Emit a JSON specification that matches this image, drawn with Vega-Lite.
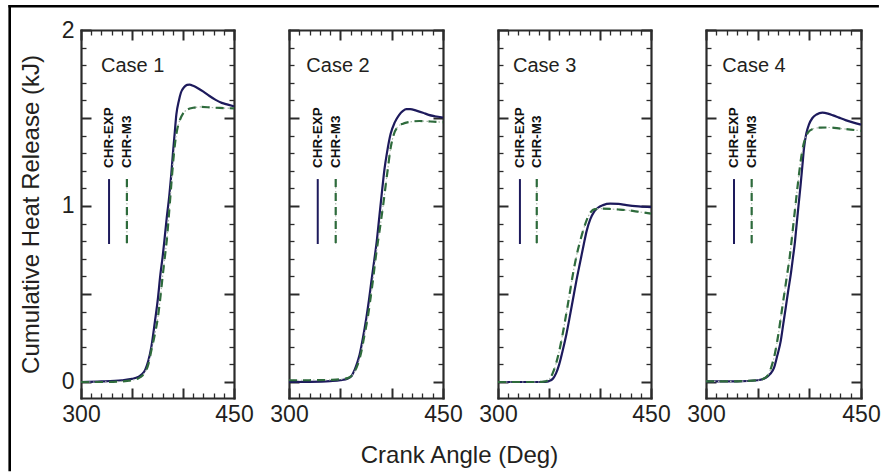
{
  "$schema": "https://vega.github.io/schema/vega-lite/v6.json",
  "padding": {"left": 7, "top": 4, "right": 0, "bottom": 0},
  "background": "white",
  "bounds": "flush",
  "spacing": 55,
  "datasets": {
    "chr": [
      {"case": 1, "series": "CHR-EXP", "angle": 300, "q": 0},
      {"case": 1, "series": "CHR-EXP", "angle": 320, "q": 0.003},
      {"case": 1, "series": "CHR-EXP", "angle": 340, "q": 0.01},
      {"case": 1, "series": "CHR-EXP", "angle": 350, "q": 0.018},
      {"case": 1, "series": "CHR-EXP", "angle": 356, "q": 0.028},
      {"case": 1, "series": "CHR-EXP", "angle": 360, "q": 0.045},
      {"case": 1, "series": "CHR-EXP", "angle": 363, "q": 0.07},
      {"case": 1, "series": "CHR-EXP", "angle": 366, "q": 0.12},
      {"case": 1, "series": "CHR-EXP", "angle": 369, "q": 0.2},
      {"case": 1, "series": "CHR-EXP", "angle": 372.5, "q": 0.345},
      {"case": 1, "series": "CHR-EXP", "angle": 375.5, "q": 0.48},
      {"case": 1, "series": "CHR-EXP", "angle": 377.8, "q": 0.61},
      {"case": 1, "series": "CHR-EXP", "angle": 380, "q": 0.71},
      {"case": 1, "series": "CHR-EXP", "angle": 381.7, "q": 0.8},
      {"case": 1, "series": "CHR-EXP", "angle": 384, "q": 0.93},
      {"case": 1, "series": "CHR-EXP", "angle": 386.6, "q": 1.06},
      {"case": 1, "series": "CHR-EXP", "angle": 388.5, "q": 1.18},
      {"case": 1, "series": "CHR-EXP", "angle": 390, "q": 1.29},
      {"case": 1, "series": "CHR-EXP", "angle": 391.8, "q": 1.41},
      {"case": 1, "series": "CHR-EXP", "angle": 393.5, "q": 1.52},
      {"case": 1, "series": "CHR-EXP", "angle": 396, "q": 1.6},
      {"case": 1, "series": "CHR-EXP", "angle": 398, "q": 1.645},
      {"case": 1, "series": "CHR-EXP", "angle": 401, "q": 1.675},
      {"case": 1, "series": "CHR-EXP", "angle": 404, "q": 1.688},
      {"case": 1, "series": "CHR-EXP", "angle": 406.5, "q": 1.69},
      {"case": 1, "series": "CHR-EXP", "angle": 410, "q": 1.683},
      {"case": 1, "series": "CHR-EXP", "angle": 415, "q": 1.668},
      {"case": 1, "series": "CHR-EXP", "angle": 420, "q": 1.65},
      {"case": 1, "series": "CHR-EXP", "angle": 426, "q": 1.625},
      {"case": 1, "series": "CHR-EXP", "angle": 432, "q": 1.603},
      {"case": 1, "series": "CHR-EXP", "angle": 438, "q": 1.586},
      {"case": 1, "series": "CHR-EXP", "angle": 444, "q": 1.576},
      {"case": 1, "series": "CHR-EXP", "angle": 450, "q": 1.566},
      {"case": 1, "series": "CHR-M3", "angle": 300, "q": 0},
      {"case": 1, "series": "CHR-M3", "angle": 320, "q": 0},
      {"case": 1, "series": "CHR-M3", "angle": 340, "q": 0.003},
      {"case": 1, "series": "CHR-M3", "angle": 350, "q": 0.01},
      {"case": 1, "series": "CHR-M3", "angle": 356, "q": 0.02},
      {"case": 1, "series": "CHR-M3", "angle": 360, "q": 0.035},
      {"case": 1, "series": "CHR-M3", "angle": 362, "q": 0.05},
      {"case": 1, "series": "CHR-M3", "angle": 366, "q": 0.1},
      {"case": 1, "series": "CHR-M3", "angle": 369, "q": 0.18},
      {"case": 1, "series": "CHR-M3", "angle": 372, "q": 0.26},
      {"case": 1, "series": "CHR-M3", "angle": 375.2, "q": 0.36},
      {"case": 1, "series": "CHR-M3", "angle": 378, "q": 0.49},
      {"case": 1, "series": "CHR-M3", "angle": 380.2, "q": 0.61},
      {"case": 1, "series": "CHR-M3", "angle": 382.2, "q": 0.71},
      {"case": 1, "series": "CHR-M3", "angle": 384, "q": 0.8},
      {"case": 1, "series": "CHR-M3", "angle": 386.6, "q": 0.98},
      {"case": 1, "series": "CHR-M3", "angle": 388.5, "q": 1.12},
      {"case": 1, "series": "CHR-M3", "angle": 390.5, "q": 1.26},
      {"case": 1, "series": "CHR-M3", "angle": 392.5, "q": 1.37},
      {"case": 1, "series": "CHR-M3", "angle": 394.5, "q": 1.44},
      {"case": 1, "series": "CHR-M3", "angle": 397, "q": 1.49},
      {"case": 1, "series": "CHR-M3", "angle": 400, "q": 1.525},
      {"case": 1, "series": "CHR-M3", "angle": 404, "q": 1.547},
      {"case": 1, "series": "CHR-M3", "angle": 410, "q": 1.558},
      {"case": 1, "series": "CHR-M3", "angle": 418, "q": 1.563},
      {"case": 1, "series": "CHR-M3", "angle": 427, "q": 1.56},
      {"case": 1, "series": "CHR-M3", "angle": 436, "q": 1.557},
      {"case": 1, "series": "CHR-M3", "angle": 450, "q": 1.555},
      {"case": 2, "series": "CHR-EXP", "angle": 300, "q": 0},
      {"case": 2, "series": "CHR-EXP", "angle": 320, "q": 0.001},
      {"case": 2, "series": "CHR-EXP", "angle": 340, "q": 0.005},
      {"case": 2, "series": "CHR-EXP", "angle": 350, "q": 0.01},
      {"case": 2, "series": "CHR-EXP", "angle": 357.5, "q": 0.02},
      {"case": 2, "series": "CHR-EXP", "angle": 361, "q": 0.035},
      {"case": 2, "series": "CHR-EXP", "angle": 364, "q": 0.07},
      {"case": 2, "series": "CHR-EXP", "angle": 366.5, "q": 0.11},
      {"case": 2, "series": "CHR-EXP", "angle": 368.8, "q": 0.156},
      {"case": 2, "series": "CHR-EXP", "angle": 372, "q": 0.25},
      {"case": 2, "series": "CHR-EXP", "angle": 375.3, "q": 0.363},
      {"case": 2, "series": "CHR-EXP", "angle": 378, "q": 0.47},
      {"case": 2, "series": "CHR-EXP", "angle": 380.2, "q": 0.57},
      {"case": 2, "series": "CHR-EXP", "angle": 383, "q": 0.69},
      {"case": 2, "series": "CHR-EXP", "angle": 385.5, "q": 0.8},
      {"case": 2, "series": "CHR-EXP", "angle": 388, "q": 0.94},
      {"case": 2, "series": "CHR-EXP", "angle": 390.9, "q": 1.1},
      {"case": 2, "series": "CHR-EXP", "angle": 393, "q": 1.21},
      {"case": 2, "series": "CHR-EXP", "angle": 395.5, "q": 1.305},
      {"case": 2, "series": "CHR-EXP", "angle": 399, "q": 1.41},
      {"case": 2, "series": "CHR-EXP", "angle": 403, "q": 1.475},
      {"case": 2, "series": "CHR-EXP", "angle": 407, "q": 1.515},
      {"case": 2, "series": "CHR-EXP", "angle": 411, "q": 1.54},
      {"case": 2, "series": "CHR-EXP", "angle": 414.3, "q": 1.55},
      {"case": 2, "series": "CHR-EXP", "angle": 418, "q": 1.55},
      {"case": 2, "series": "CHR-EXP", "angle": 424, "q": 1.542},
      {"case": 2, "series": "CHR-EXP", "angle": 430.5, "q": 1.53},
      {"case": 2, "series": "CHR-EXP", "angle": 436, "q": 1.518},
      {"case": 2, "series": "CHR-EXP", "angle": 442, "q": 1.51},
      {"case": 2, "series": "CHR-EXP", "angle": 450, "q": 1.503},
      {"case": 2, "series": "CHR-M3", "angle": 300, "q": 0.01},
      {"case": 2, "series": "CHR-M3", "angle": 320, "q": 0.01},
      {"case": 2, "series": "CHR-M3", "angle": 340, "q": 0.012},
      {"case": 2, "series": "CHR-M3", "angle": 350, "q": 0.015},
      {"case": 2, "series": "CHR-M3", "angle": 357, "q": 0.022},
      {"case": 2, "series": "CHR-M3", "angle": 361, "q": 0.035},
      {"case": 2, "series": "CHR-M3", "angle": 364, "q": 0.06},
      {"case": 2, "series": "CHR-M3", "angle": 367, "q": 0.1},
      {"case": 2, "series": "CHR-M3", "angle": 370, "q": 0.16},
      {"case": 2, "series": "CHR-M3", "angle": 373.3, "q": 0.26},
      {"case": 2, "series": "CHR-M3", "angle": 376.8, "q": 0.37},
      {"case": 2, "series": "CHR-M3", "angle": 379.5, "q": 0.48},
      {"case": 2, "series": "CHR-M3", "angle": 381.8, "q": 0.58},
      {"case": 2, "series": "CHR-M3", "angle": 384.5, "q": 0.71},
      {"case": 2, "series": "CHR-M3", "angle": 386.7, "q": 0.8},
      {"case": 2, "series": "CHR-M3", "angle": 389.2, "q": 0.9},
      {"case": 2, "series": "CHR-M3", "angle": 391.6, "q": 1.0},
      {"case": 2, "series": "CHR-M3", "angle": 394, "q": 1.11},
      {"case": 2, "series": "CHR-M3", "angle": 396.4, "q": 1.218},
      {"case": 2, "series": "CHR-M3", "angle": 399, "q": 1.33},
      {"case": 2, "series": "CHR-M3", "angle": 402, "q": 1.405},
      {"case": 2, "series": "CHR-M3", "angle": 406, "q": 1.45},
      {"case": 2, "series": "CHR-M3", "angle": 411, "q": 1.468},
      {"case": 2, "series": "CHR-M3", "angle": 418, "q": 1.478},
      {"case": 2, "series": "CHR-M3", "angle": 427, "q": 1.483},
      {"case": 2, "series": "CHR-M3", "angle": 438, "q": 1.48},
      {"case": 2, "series": "CHR-M3", "angle": 450, "q": 1.476},
      {"case": 3, "series": "CHR-EXP", "angle": 300, "q": 0},
      {"case": 3, "series": "CHR-EXP", "angle": 320, "q": 0},
      {"case": 3, "series": "CHR-EXP", "angle": 340, "q": 0},
      {"case": 3, "series": "CHR-EXP", "angle": 346, "q": 0.001},
      {"case": 3, "series": "CHR-EXP", "angle": 350, "q": 0.005},
      {"case": 3, "series": "CHR-EXP", "angle": 354, "q": 0.02},
      {"case": 3, "series": "CHR-EXP", "angle": 357, "q": 0.05},
      {"case": 3, "series": "CHR-EXP", "angle": 360, "q": 0.1},
      {"case": 3, "series": "CHR-EXP", "angle": 363.5, "q": 0.18},
      {"case": 3, "series": "CHR-EXP", "angle": 367, "q": 0.27},
      {"case": 3, "series": "CHR-EXP", "angle": 370, "q": 0.36},
      {"case": 3, "series": "CHR-EXP", "angle": 373.5, "q": 0.47},
      {"case": 3, "series": "CHR-EXP", "angle": 377, "q": 0.58},
      {"case": 3, "series": "CHR-EXP", "angle": 380.5, "q": 0.68},
      {"case": 3, "series": "CHR-EXP", "angle": 384, "q": 0.78},
      {"case": 3, "series": "CHR-EXP", "angle": 387, "q": 0.86},
      {"case": 3, "series": "CHR-EXP", "angle": 390.5, "q": 0.925},
      {"case": 3, "series": "CHR-EXP", "angle": 394, "q": 0.965},
      {"case": 3, "series": "CHR-EXP", "angle": 398, "q": 0.99},
      {"case": 3, "series": "CHR-EXP", "angle": 403, "q": 1.005},
      {"case": 3, "series": "CHR-EXP", "angle": 410, "q": 1.013},
      {"case": 3, "series": "CHR-EXP", "angle": 418, "q": 1.012},
      {"case": 3, "series": "CHR-EXP", "angle": 426, "q": 1.005},
      {"case": 3, "series": "CHR-EXP", "angle": 438, "q": 0.998},
      {"case": 3, "series": "CHR-EXP", "angle": 450, "q": 0.994},
      {"case": 3, "series": "CHR-M3", "angle": 300, "q": 0},
      {"case": 3, "series": "CHR-M3", "angle": 320, "q": 0},
      {"case": 3, "series": "CHR-M3", "angle": 340, "q": 0},
      {"case": 3, "series": "CHR-M3", "angle": 345, "q": 0.002},
      {"case": 3, "series": "CHR-M3", "angle": 349, "q": 0.01},
      {"case": 3, "series": "CHR-M3", "angle": 352, "q": 0.03},
      {"case": 3, "series": "CHR-M3", "angle": 355, "q": 0.07},
      {"case": 3, "series": "CHR-M3", "angle": 359, "q": 0.15},
      {"case": 3, "series": "CHR-M3", "angle": 363, "q": 0.26},
      {"case": 3, "series": "CHR-M3", "angle": 367, "q": 0.39},
      {"case": 3, "series": "CHR-M3", "angle": 370.5, "q": 0.51},
      {"case": 3, "series": "CHR-M3", "angle": 374, "q": 0.63},
      {"case": 3, "series": "CHR-M3", "angle": 377.5, "q": 0.73},
      {"case": 3, "series": "CHR-M3", "angle": 381, "q": 0.81},
      {"case": 3, "series": "CHR-M3", "angle": 384.5, "q": 0.88},
      {"case": 3, "series": "CHR-M3", "angle": 388, "q": 0.935},
      {"case": 3, "series": "CHR-M3", "angle": 391, "q": 0.966},
      {"case": 3, "series": "CHR-M3", "angle": 395, "q": 0.982},
      {"case": 3, "series": "CHR-M3", "angle": 400, "q": 0.985},
      {"case": 3, "series": "CHR-M3", "angle": 410, "q": 0.983},
      {"case": 3, "series": "CHR-M3", "angle": 418, "q": 0.98},
      {"case": 3, "series": "CHR-M3", "angle": 426.5, "q": 0.976},
      {"case": 3, "series": "CHR-M3", "angle": 438, "q": 0.967},
      {"case": 3, "series": "CHR-M3", "angle": 450, "q": 0.957},
      {"case": 4, "series": "CHR-EXP", "angle": 300, "q": 0.003},
      {"case": 4, "series": "CHR-EXP", "angle": 330, "q": 0.004},
      {"case": 4, "series": "CHR-EXP", "angle": 350, "q": 0.01},
      {"case": 4, "series": "CHR-EXP", "angle": 357.8, "q": 0.024},
      {"case": 4, "series": "CHR-EXP", "angle": 362, "q": 0.045},
      {"case": 4, "series": "CHR-EXP", "angle": 365.8, "q": 0.08},
      {"case": 4, "series": "CHR-EXP", "angle": 369, "q": 0.15},
      {"case": 4, "series": "CHR-EXP", "angle": 372.3, "q": 0.232},
      {"case": 4, "series": "CHR-EXP", "angle": 374.8, "q": 0.33},
      {"case": 4, "series": "CHR-EXP", "angle": 377.1, "q": 0.42},
      {"case": 4, "series": "CHR-EXP", "angle": 379.6, "q": 0.52},
      {"case": 4, "series": "CHR-EXP", "angle": 382, "q": 0.61},
      {"case": 4, "series": "CHR-EXP", "angle": 384, "q": 0.7},
      {"case": 4, "series": "CHR-EXP", "angle": 386.1, "q": 0.797},
      {"case": 4, "series": "CHR-EXP", "angle": 387.4, "q": 0.877},
      {"case": 4, "series": "CHR-EXP", "angle": 389.5, "q": 1.0},
      {"case": 4, "series": "CHR-EXP", "angle": 391.6, "q": 1.123},
      {"case": 4, "series": "CHR-EXP", "angle": 393.3, "q": 1.23},
      {"case": 4, "series": "CHR-EXP", "angle": 394.9, "q": 1.331},
      {"case": 4, "series": "CHR-EXP", "angle": 397, "q": 1.41},
      {"case": 4, "series": "CHR-EXP", "angle": 399.7, "q": 1.464},
      {"case": 4, "series": "CHR-EXP", "angle": 403, "q": 1.5},
      {"case": 4, "series": "CHR-EXP", "angle": 407, "q": 1.52},
      {"case": 4, "series": "CHR-EXP", "angle": 412.6, "q": 1.53},
      {"case": 4, "series": "CHR-EXP", "angle": 418, "q": 1.525},
      {"case": 4, "series": "CHR-EXP", "angle": 423, "q": 1.515},
      {"case": 4, "series": "CHR-EXP", "angle": 428.7, "q": 1.502},
      {"case": 4, "series": "CHR-EXP", "angle": 435, "q": 1.488},
      {"case": 4, "series": "CHR-EXP", "angle": 442, "q": 1.475},
      {"case": 4, "series": "CHR-EXP", "angle": 450, "q": 1.462},
      {"case": 4, "series": "CHR-M3", "angle": 300, "q": 0.003},
      {"case": 4, "series": "CHR-M3", "angle": 330, "q": 0.004},
      {"case": 4, "series": "CHR-M3", "angle": 350, "q": 0.01},
      {"case": 4, "series": "CHR-M3", "angle": 356, "q": 0.02},
      {"case": 4, "series": "CHR-M3", "angle": 360, "q": 0.04},
      {"case": 4, "series": "CHR-M3", "angle": 363.5, "q": 0.09},
      {"case": 4, "series": "CHR-M3", "angle": 367, "q": 0.17},
      {"case": 4, "series": "CHR-M3", "angle": 370, "q": 0.27},
      {"case": 4, "series": "CHR-M3", "angle": 373, "q": 0.39},
      {"case": 4, "series": "CHR-M3", "angle": 376, "q": 0.51},
      {"case": 4, "series": "CHR-M3", "angle": 378.5, "q": 0.61},
      {"case": 4, "series": "CHR-M3", "angle": 381, "q": 0.71},
      {"case": 4, "series": "CHR-M3", "angle": 384.2, "q": 0.877},
      {"case": 4, "series": "CHR-M3", "angle": 386.5, "q": 1.0},
      {"case": 4, "series": "CHR-M3", "angle": 389, "q": 1.13},
      {"case": 4, "series": "CHR-M3", "angle": 391.5, "q": 1.25},
      {"case": 4, "series": "CHR-M3", "angle": 394, "q": 1.34},
      {"case": 4, "series": "CHR-M3", "angle": 396.5, "q": 1.39},
      {"case": 4, "series": "CHR-M3", "angle": 399, "q": 1.42},
      {"case": 4, "series": "CHR-M3", "angle": 403, "q": 1.437},
      {"case": 4, "series": "CHR-M3", "angle": 410, "q": 1.445},
      {"case": 4, "series": "CHR-M3", "angle": 419, "q": 1.446},
      {"case": 4, "series": "CHR-M3", "angle": 430, "q": 1.44},
      {"case": 4, "series": "CHR-M3", "angle": 440, "q": 1.434},
      {"case": 4, "series": "CHR-M3", "angle": 450, "q": 1.427}
    ]
  },
  "hconcat": [
    {
      "width": 153, "height": 368,
      "resolve": {"axis": {"x": "independent", "y": "independent"}},
      "layer": [
        {"data": {"name": "chr"}, "transform": [{"filter": "datum.case === 1 && datum.series === 'CHR-EXP'"}],
         "mark": {"type": "line", "color": "#1d1a5c", "strokeWidth": 2.2, "interpolate": "monotone"},
         "encoding": {
           "x": {"field": "angle", "type": "quantitative", "scale": {"domain": [300, 450], "nice": false, "zero": false},
                 "axis": {"orient": "bottom", "values": [300,310,320,330,340,350,360,370,380,390,400,410,420,430,440,450],
                          "tickSize": {"condition": {"test": "datum.value % 50 === 0", "value": -10}, "value": -5},
                          "tickWidth": {"condition": {"test": "datum.value % 50 === 0", "value": 2}, "value": 1.3},
                          "labelExpr": "datum.value === 300 || datum.value === 450 ? format(datum.value, 'd') : ''",
                          "labelPadding": 15, "title": null}},
           "y": {"field": "q", "type": "quantitative", "scale": {"domain": [-0.091, 2], "nice": false, "zero": false},
                 "axis": {"orient": "left", "values": [0,0.1,0.2,0.3,0.4,0.5,0.6,0.7,0.8,0.9,1,1.1,1.2,1.3,1.4,1.5,1.6,1.7,1.8,1.9,2],
                          "tickSize": {"condition": {"test": "abs(datum.value * 2 - round(datum.value * 2)) < 0.01", "value": -10}, "value": -5},
                          "tickWidth": {"condition": {"test": "abs(datum.value * 2 - round(datum.value * 2)) < 0.01", "value": 2}, "value": 1.3},
                          "labelExpr": "datum.value === 0 || datum.value === 1 || datum.value === 2 ? format(datum.value, 'd') : ''",
                          "labelPadding": 17,
                          "title": "Cumulative Heat Release (kJ)", "titleX": -43, "titleY": 184, "titleAngle": 270,
                          "titleBaseline": "alphabetic", "titleAlign": "center"}}
         }},
        {"data": {"name": "chr"}, "transform": [{"filter": "datum.case === 1 && datum.series === 'CHR-M3'"}],
         "mark": {"type": "line", "color": "#a9b8a9", "strokeWidth": 1.2, "strokeDash": [1.5, 2.5], "interpolate": "monotone"},
         "encoding": {
           "x": {"field": "angle", "type": "quantitative", "scale": {"domain": [300, 450], "nice": false, "zero": false},
                 "axis": {"orient": "top", "values": [300,310,320,330,340,350,360,370,380,390,400,410,420,430,440,450],
                          "tickSize": {"condition": {"test": "datum.value % 50 === 0", "value": -10}, "value": -5},
                          "tickWidth": {"condition": {"test": "datum.value % 50 === 0", "value": 2}, "value": 1.3},
                          "labels": false, "title": null}},
           "y": {"field": "q", "type": "quantitative", "scale": {"domain": [-0.091, 2], "nice": false, "zero": false},
                 "axis": {"orient": "right", "values": [0,0.1,0.2,0.3,0.4,0.5,0.6,0.7,0.8,0.9,1,1.1,1.2,1.3,1.4,1.5,1.6,1.7,1.8,1.9,2],
                          "tickSize": {"condition": {"test": "abs(datum.value * 2 - round(datum.value * 2)) < 0.01", "value": -10}, "value": -5},
                          "tickWidth": {"condition": {"test": "abs(datum.value * 2 - round(datum.value * 2)) < 0.01", "value": 2}, "value": 1.3},
                          "labels": false, "title": null}}
         }},
        {"data": {"name": "chr"}, "transform": [{"filter": "datum.case === 1 && datum.series === 'CHR-M3'"}],
         "mark": {"type": "line", "color": "#2e6b3c", "strokeWidth": 2.2, "strokeDash": [8, 6], "interpolate": "monotone"},
         "encoding": {
           "x": {"field": "angle", "type": "quantitative", "scale": {"domain": [300, 450], "nice": false, "zero": false}, "axis": null},
           "y": {"field": "q", "type": "quantitative", "scale": {"domain": [-0.091, 2], "nice": false, "zero": false}, "axis": null}
         }},
        {"data": {"values": [{}]}, "mark": {"type": "rule", "color": "#1d1a5c", "strokeWidth": 2},
         "encoding": {"x": {"datum": 327.5, "type": "quantitative", "scale": {"domain": [300, 450], "nice": false, "zero": false}, "axis": null},
                      "y": {"datum": 1.153, "type": "quantitative", "scale": {"domain": [-0.091, 2], "nice": false, "zero": false}, "axis": null},
                      "y2": {"datum": 0.784}}},
        {"data": {"values": [{}]}, "mark": {"type": "rule", "color": "#a9b8a9", "strokeWidth": 1.2, "strokeDash": [1.5, 2.5]},
         "encoding": {"x": {"datum": 345, "type": "quantitative", "scale": {"domain": [300, 450], "nice": false, "zero": false}, "axis": null},
                      "y": {"datum": 1.153, "type": "quantitative", "scale": {"domain": [-0.091, 2], "nice": false, "zero": false}, "axis": null},
                      "y2": {"datum": 0.784}}},
        {"data": {"values": [{}]}, "mark": {"type": "rule", "color": "#2e6b3c", "strokeWidth": 2.2, "strokeDash": [8, 6]},
         "encoding": {"x": {"datum": 345, "type": "quantitative", "scale": {"domain": [300, 450], "nice": false, "zero": false}, "axis": null},
                      "y": {"datum": 1.153, "type": "quantitative", "scale": {"domain": [-0.091, 2], "nice": false, "zero": false}, "axis": null},
                      "y2": {"datum": 0.784}}},
        {"data": {"values": [{}]}, "mark": {"type": "text", "text": "CHR-EXP", "angle": 270, "align": "left", "baseline": "middle", "fontSize": 13.5, "fontWeight": "bold", "color": "#111111"},
         "encoding": {"x": {"datum": 327.5, "type": "quantitative", "scale": {"domain": [300, 450], "nice": false, "zero": false}, "axis": null},
                      "y": {"datum": 1.216, "type": "quantitative", "scale": {"domain": [-0.091, 2], "nice": false, "zero": false}, "axis": null}}},
        {"data": {"values": [{}]}, "mark": {"type": "text", "text": "CHR-M3", "angle": 270, "align": "left", "baseline": "middle", "fontSize": 13.5, "fontWeight": "bold", "color": "#111111"},
         "encoding": {"x": {"datum": 345, "type": "quantitative", "scale": {"domain": [300, 450], "nice": false, "zero": false}, "axis": null},
                      "y": {"datum": 1.216, "type": "quantitative", "scale": {"domain": [-0.091, 2], "nice": false, "zero": false}, "axis": null}}},
        {"data": {"values": [{}]}, "mark": {"type": "text", "text": "Case 1", "align": "left", "baseline": "alphabetic", "fontSize": 20, "color": "#231f20"},
         "encoding": {"x": {"datum": 319.6, "type": "quantitative", "scale": {"domain": [300, 450], "nice": false, "zero": false}, "axis": null},
                      "y": {"datum": 1.763, "type": "quantitative", "scale": {"domain": [-0.091, 2], "nice": false, "zero": false}, "axis": null}}},
        {"data": {"values": [{}]}, "mark": {"type": "rule", "color": "#000000", "strokeWidth": 2.6, "strokeCap": "square"},
         "encoding": {"x": {"datum": 230.1, "type": "quantitative", "scale": {"domain": [300, 450], "nice": false, "zero": false}, "axis": null},
                      "y": {"datum": 2.1347, "type": "quantitative", "scale": {"domain": [-0.091, 2], "nice": false, "zero": false}, "axis": null},
                      "y2": {"datum": -0.5}}},
        {"data": {"values": [{}]}, "mark": {"type": "rule", "color": "#000000", "strokeWidth": 2.6, "strokeCap": "square"},
         "encoding": {"x": {"datum": 230.1, "type": "quantitative", "scale": {"domain": [300, 450], "nice": false, "zero": false}, "axis": null},
                      "x2": {"datum": 1081},
                      "y": {"datum": 2.1347, "type": "quantitative", "scale": {"domain": [-0.091, 2], "nice": false, "zero": false}, "axis": null}}}
      ]
    },
    {
      "width": 154, "height": 368,
      "resolve": {"axis": {"x": "independent", "y": "independent"}},
      "layer": [
        {"data": {"name": "chr"}, "transform": [{"filter": "datum.case === 2 && datum.series === 'CHR-EXP'"}],
         "mark": {"type": "line", "color": "#1d1a5c", "strokeWidth": 2.2, "interpolate": "monotone"},
         "encoding": {
           "x": {"field": "angle", "type": "quantitative", "scale": {"domain": [300, 450], "nice": false, "zero": false},
                 "axis": {"orient": "bottom", "values": [300,310,320,330,340,350,360,370,380,390,400,410,420,430,440,450],
                          "tickSize": {"condition": {"test": "datum.value % 50 === 0", "value": -10}, "value": -5},
                          "tickWidth": {"condition": {"test": "datum.value % 50 === 0", "value": 2}, "value": 1.3},
                          "labelExpr": "datum.value === 300 || datum.value === 450 ? format(datum.value, 'd') : ''",
                          "labelPadding": 15,
                          "title": "Crank Angle (Deg)", "titleX": 170, "titleY": 64, "titleBaseline": "alphabetic", "titleAlign": "center"}},
           "y": {"field": "q", "type": "quantitative", "scale": {"domain": [-0.091, 2], "nice": false, "zero": false},
                 "axis": {"orient": "left", "values": [0,0.1,0.2,0.3,0.4,0.5,0.6,0.7,0.8,0.9,1,1.1,1.2,1.3,1.4,1.5,1.6,1.7,1.8,1.9,2],
                          "tickSize": {"condition": {"test": "abs(datum.value * 2 - round(datum.value * 2)) < 0.01", "value": -10}, "value": -5},
                          "tickWidth": {"condition": {"test": "abs(datum.value * 2 - round(datum.value * 2)) < 0.01", "value": 2}, "value": 1.3},
                          "labels": false, "title": null}}
         }},
        {"data": {"name": "chr"}, "transform": [{"filter": "datum.case === 2 && datum.series === 'CHR-M3'"}],
         "mark": {"type": "line", "color": "#a9b8a9", "strokeWidth": 1.2, "strokeDash": [1.5, 2.5], "interpolate": "monotone"},
         "encoding": {
           "x": {"field": "angle", "type": "quantitative", "scale": {"domain": [300, 450], "nice": false, "zero": false},
                 "axis": {"orient": "top", "values": [300,310,320,330,340,350,360,370,380,390,400,410,420,430,440,450],
                          "tickSize": {"condition": {"test": "datum.value % 50 === 0", "value": -10}, "value": -5},
                          "tickWidth": {"condition": {"test": "datum.value % 50 === 0", "value": 2}, "value": 1.3},
                          "labels": false, "title": null}},
           "y": {"field": "q", "type": "quantitative", "scale": {"domain": [-0.091, 2], "nice": false, "zero": false},
                 "axis": {"orient": "right", "values": [0,0.1,0.2,0.3,0.4,0.5,0.6,0.7,0.8,0.9,1,1.1,1.2,1.3,1.4,1.5,1.6,1.7,1.8,1.9,2],
                          "tickSize": {"condition": {"test": "abs(datum.value * 2 - round(datum.value * 2)) < 0.01", "value": -10}, "value": -5},
                          "tickWidth": {"condition": {"test": "abs(datum.value * 2 - round(datum.value * 2)) < 0.01", "value": 2}, "value": 1.3},
                          "labels": false, "title": null}}
         }},
        {"data": {"name": "chr"}, "transform": [{"filter": "datum.case === 2 && datum.series === 'CHR-M3'"}],
         "mark": {"type": "line", "color": "#2e6b3c", "strokeWidth": 2.2, "strokeDash": [8, 6], "interpolate": "monotone"},
         "encoding": {
           "x": {"field": "angle", "type": "quantitative", "scale": {"domain": [300, 450], "nice": false, "zero": false}, "axis": null},
           "y": {"field": "q", "type": "quantitative", "scale": {"domain": [-0.091, 2], "nice": false, "zero": false}, "axis": null}
         }},
        {"data": {"values": [{}]}, "mark": {"type": "rule", "color": "#1d1a5c", "strokeWidth": 2},
         "encoding": {"x": {"datum": 328, "type": "quantitative", "scale": {"domain": [300, 450], "nice": false, "zero": false}, "axis": null},
                      "y": {"datum": 1.153, "type": "quantitative", "scale": {"domain": [-0.091, 2], "nice": false, "zero": false}, "axis": null},
                      "y2": {"datum": 0.784}}},
        {"data": {"values": [{}]}, "mark": {"type": "rule", "color": "#a9b8a9", "strokeWidth": 1.2, "strokeDash": [1.5, 2.5]},
         "encoding": {"x": {"datum": 345.5, "type": "quantitative", "scale": {"domain": [300, 450], "nice": false, "zero": false}, "axis": null},
                      "y": {"datum": 1.153, "type": "quantitative", "scale": {"domain": [-0.091, 2], "nice": false, "zero": false}, "axis": null},
                      "y2": {"datum": 0.784}}},
        {"data": {"values": [{}]}, "mark": {"type": "rule", "color": "#2e6b3c", "strokeWidth": 2.2, "strokeDash": [8, 6]},
         "encoding": {"x": {"datum": 345.5, "type": "quantitative", "scale": {"domain": [300, 450], "nice": false, "zero": false}, "axis": null},
                      "y": {"datum": 1.153, "type": "quantitative", "scale": {"domain": [-0.091, 2], "nice": false, "zero": false}, "axis": null},
                      "y2": {"datum": 0.784}}},
        {"data": {"values": [{}]}, "mark": {"type": "text", "text": "CHR-EXP", "angle": 270, "align": "left", "baseline": "middle", "fontSize": 13.5, "fontWeight": "bold", "color": "#111111"},
         "encoding": {"x": {"datum": 328, "type": "quantitative", "scale": {"domain": [300, 450], "nice": false, "zero": false}, "axis": null},
                      "y": {"datum": 1.216, "type": "quantitative", "scale": {"domain": [-0.091, 2], "nice": false, "zero": false}, "axis": null}}},
        {"data": {"values": [{}]}, "mark": {"type": "text", "text": "CHR-M3", "angle": 270, "align": "left", "baseline": "middle", "fontSize": 13.5, "fontWeight": "bold", "color": "#111111"},
         "encoding": {"x": {"datum": 345.5, "type": "quantitative", "scale": {"domain": [300, 450], "nice": false, "zero": false}, "axis": null},
                      "y": {"datum": 1.216, "type": "quantitative", "scale": {"domain": [-0.091, 2], "nice": false, "zero": false}, "axis": null}}},
        {"data": {"values": [{}]}, "mark": {"type": "text", "text": "Case 2", "align": "left", "baseline": "alphabetic", "fontSize": 20, "color": "#231f20"},
         "encoding": {"x": {"datum": 316.9, "type": "quantitative", "scale": {"domain": [300, 450], "nice": false, "zero": false}, "axis": null},
                      "y": {"datum": 1.763, "type": "quantitative", "scale": {"domain": [-0.091, 2], "nice": false, "zero": false}, "axis": null}}}
      ]
    },
    {
      "width": 153, "height": 368,
      "resolve": {"axis": {"x": "independent", "y": "independent"}},
      "layer": [
        {"data": {"name": "chr"}, "transform": [{"filter": "datum.case === 3 && datum.series === 'CHR-EXP'"}],
         "mark": {"type": "line", "color": "#1d1a5c", "strokeWidth": 2.2, "interpolate": "monotone"},
         "encoding": {
           "x": {"field": "angle", "type": "quantitative", "scale": {"domain": [300, 450], "nice": false, "zero": false},
                 "axis": {"orient": "bottom", "values": [300,310,320,330,340,350,360,370,380,390,400,410,420,430,440,450],
                          "tickSize": {"condition": {"test": "datum.value % 50 === 0", "value": -10}, "value": -5},
                          "tickWidth": {"condition": {"test": "datum.value % 50 === 0", "value": 2}, "value": 1.3},
                          "labelExpr": "datum.value === 300 || datum.value === 450 ? format(datum.value, 'd') : ''",
                          "labelPadding": 15, "title": null}},
           "y": {"field": "q", "type": "quantitative", "scale": {"domain": [-0.091, 2], "nice": false, "zero": false},
                 "axis": {"orient": "left", "values": [0,0.1,0.2,0.3,0.4,0.5,0.6,0.7,0.8,0.9,1,1.1,1.2,1.3,1.4,1.5,1.6,1.7,1.8,1.9,2],
                          "tickSize": {"condition": {"test": "abs(datum.value * 2 - round(datum.value * 2)) < 0.01", "value": -10}, "value": -5},
                          "tickWidth": {"condition": {"test": "abs(datum.value * 2 - round(datum.value * 2)) < 0.01", "value": 2}, "value": 1.3},
                          "labels": false, "title": null}}
         }},
        {"data": {"name": "chr"}, "transform": [{"filter": "datum.case === 3 && datum.series === 'CHR-M3'"}],
         "mark": {"type": "line", "color": "#a9b8a9", "strokeWidth": 1.2, "strokeDash": [1.5, 2.5], "interpolate": "monotone"},
         "encoding": {
           "x": {"field": "angle", "type": "quantitative", "scale": {"domain": [300, 450], "nice": false, "zero": false},
                 "axis": {"orient": "top", "values": [300,310,320,330,340,350,360,370,380,390,400,410,420,430,440,450],
                          "tickSize": {"condition": {"test": "datum.value % 50 === 0", "value": -10}, "value": -5},
                          "tickWidth": {"condition": {"test": "datum.value % 50 === 0", "value": 2}, "value": 1.3},
                          "labels": false, "title": null}},
           "y": {"field": "q", "type": "quantitative", "scale": {"domain": [-0.091, 2], "nice": false, "zero": false},
                 "axis": {"orient": "right", "values": [0,0.1,0.2,0.3,0.4,0.5,0.6,0.7,0.8,0.9,1,1.1,1.2,1.3,1.4,1.5,1.6,1.7,1.8,1.9,2],
                          "tickSize": {"condition": {"test": "abs(datum.value * 2 - round(datum.value * 2)) < 0.01", "value": -10}, "value": -5},
                          "tickWidth": {"condition": {"test": "abs(datum.value * 2 - round(datum.value * 2)) < 0.01", "value": 2}, "value": 1.3},
                          "labels": false, "title": null}}
         }},
        {"data": {"name": "chr"}, "transform": [{"filter": "datum.case === 3 && datum.series === 'CHR-M3'"}],
         "mark": {"type": "line", "color": "#2e6b3c", "strokeWidth": 2.2, "strokeDash": [8, 6], "interpolate": "monotone"},
         "encoding": {
           "x": {"field": "angle", "type": "quantitative", "scale": {"domain": [300, 450], "nice": false, "zero": false}, "axis": null},
           "y": {"field": "q", "type": "quantitative", "scale": {"domain": [-0.091, 2], "nice": false, "zero": false}, "axis": null}
         }},
        {"data": {"values": [{}]}, "mark": {"type": "rule", "color": "#1d1a5c", "strokeWidth": 2},
         "encoding": {"x": {"datum": 321.5, "type": "quantitative", "scale": {"domain": [300, 450], "nice": false, "zero": false}, "axis": null},
                      "y": {"datum": 1.153, "type": "quantitative", "scale": {"domain": [-0.091, 2], "nice": false, "zero": false}, "axis": null},
                      "y2": {"datum": 0.784}}},
        {"data": {"values": [{}]}, "mark": {"type": "rule", "color": "#a9b8a9", "strokeWidth": 1.2, "strokeDash": [1.5, 2.5]},
         "encoding": {"x": {"datum": 338, "type": "quantitative", "scale": {"domain": [300, 450], "nice": false, "zero": false}, "axis": null},
                      "y": {"datum": 1.153, "type": "quantitative", "scale": {"domain": [-0.091, 2], "nice": false, "zero": false}, "axis": null},
                      "y2": {"datum": 0.784}}},
        {"data": {"values": [{}]}, "mark": {"type": "rule", "color": "#2e6b3c", "strokeWidth": 2.2, "strokeDash": [8, 6]},
         "encoding": {"x": {"datum": 338, "type": "quantitative", "scale": {"domain": [300, 450], "nice": false, "zero": false}, "axis": null},
                      "y": {"datum": 1.153, "type": "quantitative", "scale": {"domain": [-0.091, 2], "nice": false, "zero": false}, "axis": null},
                      "y2": {"datum": 0.784}}},
        {"data": {"values": [{}]}, "mark": {"type": "text", "text": "CHR-EXP", "angle": 270, "align": "left", "baseline": "middle", "fontSize": 13.5, "fontWeight": "bold", "color": "#111111"},
         "encoding": {"x": {"datum": 321.5, "type": "quantitative", "scale": {"domain": [300, 450], "nice": false, "zero": false}, "axis": null},
                      "y": {"datum": 1.216, "type": "quantitative", "scale": {"domain": [-0.091, 2], "nice": false, "zero": false}, "axis": null}}},
        {"data": {"values": [{}]}, "mark": {"type": "text", "text": "CHR-M3", "angle": 270, "align": "left", "baseline": "middle", "fontSize": 13.5, "fontWeight": "bold", "color": "#111111"},
         "encoding": {"x": {"datum": 338, "type": "quantitative", "scale": {"domain": [300, 450], "nice": false, "zero": false}, "axis": null},
                      "y": {"datum": 1.216, "type": "quantitative", "scale": {"domain": [-0.091, 2], "nice": false, "zero": false}, "axis": null}}},
        {"data": {"values": [{}]}, "mark": {"type": "text", "text": "Case 3", "align": "left", "baseline": "alphabetic", "fontSize": 20, "color": "#231f20"},
         "encoding": {"x": {"datum": 314.7, "type": "quantitative", "scale": {"domain": [300, 450], "nice": false, "zero": false}, "axis": null},
                      "y": {"datum": 1.763, "type": "quantitative", "scale": {"domain": [-0.091, 2], "nice": false, "zero": false}, "axis": null}}}
      ]
    },
    {
      "width": 155, "height": 368,
      "resolve": {"axis": {"x": "independent", "y": "independent"}},
      "layer": [
        {"data": {"name": "chr"}, "transform": [{"filter": "datum.case === 4 && datum.series === 'CHR-EXP'"}],
         "mark": {"type": "line", "color": "#1d1a5c", "strokeWidth": 2.2, "interpolate": "monotone"},
         "encoding": {
           "x": {"field": "angle", "type": "quantitative", "scale": {"domain": [300, 450], "nice": false, "zero": false},
                 "axis": {"orient": "bottom", "values": [300,310,320,330,340,350,360,370,380,390,400,410,420,430,440,450],
                          "tickSize": {"condition": {"test": "datum.value % 50 === 0", "value": -10}, "value": -5},
                          "tickWidth": {"condition": {"test": "datum.value % 50 === 0", "value": 2}, "value": 1.3},
                          "labelExpr": "datum.value === 300 || datum.value === 450 ? format(datum.value, 'd') : ''",
                          "labelPadding": 15, "title": null}},
           "y": {"field": "q", "type": "quantitative", "scale": {"domain": [-0.091, 2], "nice": false, "zero": false},
                 "axis": {"orient": "left", "values": [0,0.1,0.2,0.3,0.4,0.5,0.6,0.7,0.8,0.9,1,1.1,1.2,1.3,1.4,1.5,1.6,1.7,1.8,1.9,2],
                          "tickSize": {"condition": {"test": "abs(datum.value * 2 - round(datum.value * 2)) < 0.01", "value": -10}, "value": -5},
                          "tickWidth": {"condition": {"test": "abs(datum.value * 2 - round(datum.value * 2)) < 0.01", "value": 2}, "value": 1.3},
                          "labels": false, "title": null}}
         }},
        {"data": {"name": "chr"}, "transform": [{"filter": "datum.case === 4 && datum.series === 'CHR-M3'"}],
         "mark": {"type": "line", "color": "#a9b8a9", "strokeWidth": 1.2, "strokeDash": [1.5, 2.5], "interpolate": "monotone"},
         "encoding": {
           "x": {"field": "angle", "type": "quantitative", "scale": {"domain": [300, 450], "nice": false, "zero": false},
                 "axis": {"orient": "top", "values": [300,310,320,330,340,350,360,370,380,390,400,410,420,430,440,450],
                          "tickSize": {"condition": {"test": "datum.value % 50 === 0", "value": -10}, "value": -5},
                          "tickWidth": {"condition": {"test": "datum.value % 50 === 0", "value": 2}, "value": 1.3},
                          "labels": false, "title": null}},
           "y": {"field": "q", "type": "quantitative", "scale": {"domain": [-0.091, 2], "nice": false, "zero": false},
                 "axis": {"orient": "right", "values": [0,0.1,0.2,0.3,0.4,0.5,0.6,0.7,0.8,0.9,1,1.1,1.2,1.3,1.4,1.5,1.6,1.7,1.8,1.9,2],
                          "tickSize": {"condition": {"test": "abs(datum.value * 2 - round(datum.value * 2)) < 0.01", "value": -10}, "value": -5},
                          "tickWidth": {"condition": {"test": "abs(datum.value * 2 - round(datum.value * 2)) < 0.01", "value": 2}, "value": 1.3},
                          "labels": false, "title": null}}
         }},
        {"data": {"name": "chr"}, "transform": [{"filter": "datum.case === 4 && datum.series === 'CHR-M3'"}],
         "mark": {"type": "line", "color": "#2e6b3c", "strokeWidth": 2.2, "strokeDash": [8, 6], "interpolate": "monotone"},
         "encoding": {
           "x": {"field": "angle", "type": "quantitative", "scale": {"domain": [300, 450], "nice": false, "zero": false}, "axis": null},
           "y": {"field": "q", "type": "quantitative", "scale": {"domain": [-0.091, 2], "nice": false, "zero": false}, "axis": null}
         }},
        {"data": {"values": [{}]}, "mark": {"type": "rule", "color": "#1d1a5c", "strokeWidth": 2},
         "encoding": {"x": {"datum": 327.1, "type": "quantitative", "scale": {"domain": [300, 450], "nice": false, "zero": false}, "axis": null},
                      "y": {"datum": 1.153, "type": "quantitative", "scale": {"domain": [-0.091, 2], "nice": false, "zero": false}, "axis": null},
                      "y2": {"datum": 0.784}}},
        {"data": {"values": [{}]}, "mark": {"type": "rule", "color": "#a9b8a9", "strokeWidth": 1.2, "strokeDash": [1.5, 2.5]},
         "encoding": {"x": {"datum": 344.2, "type": "quantitative", "scale": {"domain": [300, 450], "nice": false, "zero": false}, "axis": null},
                      "y": {"datum": 1.153, "type": "quantitative", "scale": {"domain": [-0.091, 2], "nice": false, "zero": false}, "axis": null},
                      "y2": {"datum": 0.784}}},
        {"data": {"values": [{}]}, "mark": {"type": "rule", "color": "#2e6b3c", "strokeWidth": 2.2, "strokeDash": [8, 6]},
         "encoding": {"x": {"datum": 344.2, "type": "quantitative", "scale": {"domain": [300, 450], "nice": false, "zero": false}, "axis": null},
                      "y": {"datum": 1.153, "type": "quantitative", "scale": {"domain": [-0.091, 2], "nice": false, "zero": false}, "axis": null},
                      "y2": {"datum": 0.784}}},
        {"data": {"values": [{}]}, "mark": {"type": "text", "text": "CHR-EXP", "angle": 270, "align": "left", "baseline": "middle", "fontSize": 13.5, "fontWeight": "bold", "color": "#111111"},
         "encoding": {"x": {"datum": 327.1, "type": "quantitative", "scale": {"domain": [300, 450], "nice": false, "zero": false}, "axis": null},
                      "y": {"datum": 1.216, "type": "quantitative", "scale": {"domain": [-0.091, 2], "nice": false, "zero": false}, "axis": null}}},
        {"data": {"values": [{}]}, "mark": {"type": "text", "text": "CHR-M3", "angle": 270, "align": "left", "baseline": "middle", "fontSize": 13.5, "fontWeight": "bold", "color": "#111111"},
         "encoding": {"x": {"datum": 344.2, "type": "quantitative", "scale": {"domain": [300, 450], "nice": false, "zero": false}, "axis": null},
                      "y": {"datum": 1.216, "type": "quantitative", "scale": {"domain": [-0.091, 2], "nice": false, "zero": false}, "axis": null}}},
        {"data": {"values": [{}]}, "mark": {"type": "text", "text": "Case 4", "align": "left", "baseline": "alphabetic", "fontSize": 20, "color": "#231f20"},
         "encoding": {"x": {"datum": 315.8, "type": "quantitative", "scale": {"domain": [300, 450], "nice": false, "zero": false}, "axis": null},
                      "y": {"datum": 1.763, "type": "quantitative", "scale": {"domain": [-0.091, 2], "nice": false, "zero": false}, "axis": null}}}
      ]
    }
  ],
  "config": {
    "view": {"stroke": null},
    "font": "Liberation Sans",
    "axis": {
      "domainColor": "#2b2b2b", "domainWidth": 2.2, "domainCap": "square",
      "tickColor": "#2b2b2b",
      "labelColor": "#231f20", "labelFont": "Liberation Sans", "labelFontSize": 23,
      "titleFont": "Liberation Sans", "titleFontSize": 24, "titleFontWeight": "normal", "titleColor": "#231f20",
      "grid": false, "labelOverlap": false, "labelFlush": false, "labelBound": false
    }
  }
}
